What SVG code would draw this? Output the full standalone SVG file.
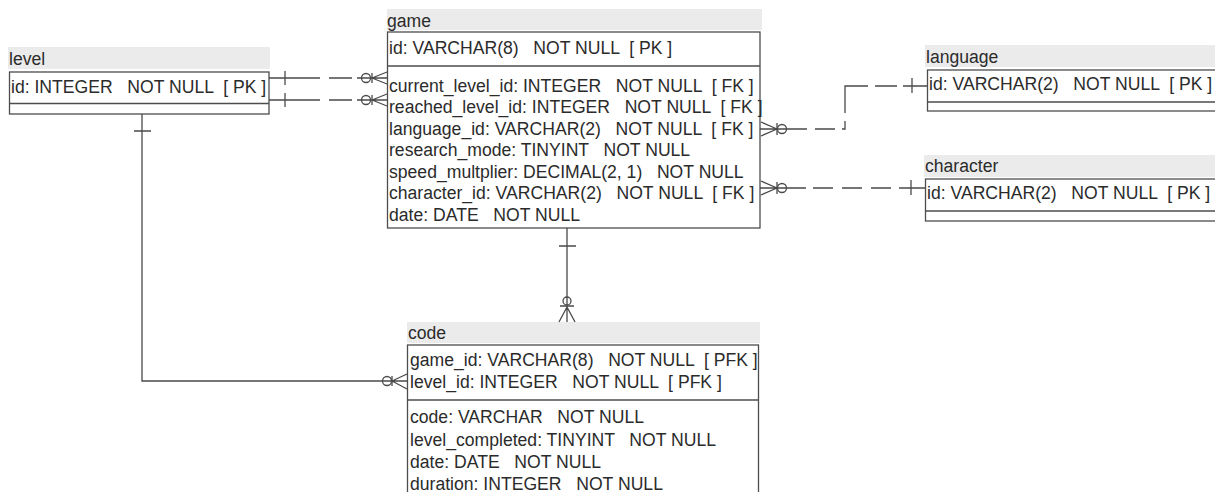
<svg xmlns="http://www.w3.org/2000/svg" width="1215" height="492" viewBox="0 0 1215 492">
<style>
text{font-family:"Liberation Sans",Arial,sans-serif;font-size:17.6px;fill:#2b2b2b;white-space:pre}
.hdr{fill:#ebebeb}
.box{fill:#fff;stroke:#4d4d4d;stroke-width:1.3}
.sep{stroke:#4d4d4d;stroke-width:1.3}
.ln{fill:none;stroke:#4a4a4a;stroke-width:1.3}
</style>
<rect width="1215" height="492" fill="#fff"/>
<g id="level">
<rect class="hdr" x="8" y="47" width="262" height="22"/>
<text x="9" y="65">level</text>
<rect class="box" x="9.5" y="72" width="259.5" height="42"/>
<line class="sep" x1="9.5" y1="103.5" x2="269" y2="103.5"/>
<text x="11" y="93">id: INTEGER   NOT NULL  [ PK ]</text>
</g>
<g id="game">
<rect class="hdr" x="387" y="9" width="375" height="21"/>
<text x="387" y="26.5">game</text>
<rect class="box" x="387.5" y="32" width="372.5" height="196"/>
<line class="sep" x1="387.5" y1="66" x2="760" y2="66"/>
<text x="389" y="54">id: VARCHAR(8)   NOT NULL  [ PK ]</text>
<text x="389" y="91.5">current_level_id: INTEGER   NOT NULL  [ FK ]</text>
<text x="389" y="113">reached_level_id: INTEGER   NOT NULL  [ FK ]</text>
<text x="389" y="134.5">language_id: VARCHAR(2)   NOT NULL  [ FK ]</text>
<text x="389" y="156">research_mode: TINYINT   NOT NULL</text>
<text x="389" y="177.5">speed_multplier: DECIMAL(2, 1)   NOT NULL</text>
<text x="389" y="199">character_id: VARCHAR(2)   NOT NULL  [ FK ]</text>
<text x="389" y="220.5">date: DATE   NOT NULL</text>
</g>
<g id="language">
<rect class="hdr" x="925" y="45" width="290" height="22"/>
<text x="926" y="63">language</text>
<rect class="box" x="927.5" y="70" width="300" height="41"/>
<line class="sep" x1="927.5" y1="102" x2="1215" y2="102"/>
<text x="929" y="90">id: VARCHAR(2)   NOT NULL  [ PK ]</text>
</g>
<g id="character">
<rect class="hdr" x="924" y="155" width="291" height="22"/>
<text x="925" y="172">character</text>
<rect class="box" x="925.5" y="179" width="300" height="42"/>
<line class="sep" x1="925.5" y1="211" x2="1215" y2="211"/>
<text x="927" y="198.5">id: VARCHAR(2)   NOT NULL  [ PK ]</text>
</g>
<g id="code">
<rect class="hdr" x="407" y="322" width="353" height="21"/>
<text x="408" y="338.5">code</text>
<rect class="box" x="407.5" y="345" width="351" height="160"/>
<line class="sep" x1="407.5" y1="400" x2="758.5" y2="400"/>
<text x="410" y="366">game_id: VARCHAR(8)   NOT NULL  [ PFK ]</text>
<text x="410" y="388">level_id: INTEGER   NOT NULL  [ PFK ]</text>
<text x="410" y="423">code: VARCHAR   NOT NULL</text>
<text x="410" y="445.5">level_completed: TINYINT   NOT NULL</text>
<text x="410" y="468">date: DATE   NOT NULL</text>
<text x="410" y="490">duration: INTEGER   NOT NULL</text>
</g>
<g id="connectors">
<!-- level -> game current_level_id -->
<path class="ln" d="M269,78 H320 M285,71 V85 M329,78 H352 M357,78 H387 M372,78 L387,72 M372,78 L387,84 M372,73 V83"/>
<circle class="ln" cx="366" cy="78" r="4.5"/>
<!-- level -> game reached_level_id -->
<path class="ln" d="M269,100 H320 M285,93 V107 M329,100 H352 M357,100 H387 M372,100 L387,94 M372,100 L387,106 M372,95 V105"/>
<circle class="ln" cx="366" cy="100" r="4.5"/>
<!-- level -> code level_id -->
<path class="ln" d="M142,114 V381 H407 M134,131 H151 M392,381 L407,374 M392,381 L407,389 M392,376 V386"/>
<circle class="ln" cx="387" cy="381" r="4.5"/>
<!-- game -> code game_id -->
<path class="ln" d="M567,228 V322 M559,246 H576 M560,306 H574 M567,307 L559,322 M567,307 L575,322"/>
<circle class="ln" cx="567" cy="301" r="4"/>
<!-- game language_id -> language -->
<path class="ln" d="M760,129 H807 M761,122 L777,129 M761,136 L777,129 M777,123 V135 M815,129 H835 M842,129 H845 V121 M845,113 V93 M845,93 V86 H868 M875,86 H897 M903,86 H927.5 M912,78 V93"/>
<circle class="ln" cx="782" cy="129" r="4.5"/>
<!-- game character_id -> character -->
<path class="ln" d="M760,188 H806 M761,181 L777,188 M761,195 L777,188 M777,182 V194 M813,188 H833 M842,188 H862 M871,188 H891 M899,188 H925.5 M911,180 V195"/>
<circle class="ln" cx="782" cy="188" r="4.5"/>
</g>
</svg>
